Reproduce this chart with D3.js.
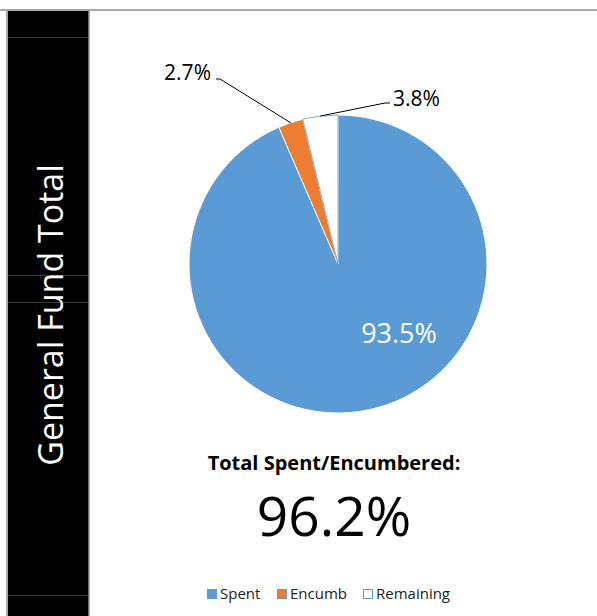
<!DOCTYPE html>
<html>
<head>
<meta charset="utf-8">
<script src="https://cdn.jsdelivr.net/npm/d3@7"></script>
<style>
  body { margin: 0; background: #fff; }
  text { font-family: "Open Sans", sans-serif; }
</style>
</head>
<body>
<div id="chart"></div>
<script>
var categories = ["Spent", "Encumb", "Remaining"];
var values = [93.5, 2.7, 3.8];
var fills = ["#5b9bd5", "#ed7d31", "#ffffff"];
var title = "General Fund Total";
var totalLabel = "Total Spent/Encumbered:";
var totalValue = "96.2%";

var width = 597, height = 616,
    cx = 338, cy = 264, radius = 149;

var svg = d3.select("#chart").append("svg")
  .attr("width", width)
  .attr("height", height);

// frame and black side bar
svg.append("rect")
  .attr("x", 7).attr("y", 10)
  .attr("width", 82).attr("height", height - 10)
  .attr("fill", "#000");

[37, 275, 302, 595].forEach(function (y) {
  svg.append("line")
    .attr("x1", 7).attr("x2", 88)
    .attr("y1", y + 0.5).attr("y2", y + 0.5)
    .style("stroke", "#3a3a3a").style("stroke-width", 1);
});

svg.append("line")
  .attr("x1", 0).attr("x2", width)
  .attr("y1", 10).attr("y2", 10)
  .style("stroke", "#aaa").style("stroke-width", 2);
svg.append("line")
  .attr("x1", 7).attr("x2", 7)
  .attr("y1", 9).attr("y2", height)
  .style("stroke", "#aaa").style("stroke-width", 2);
svg.append("line")
  .attr("x1", 89).attr("x2", 89)
  .attr("y1", 10).attr("y2", height)
  .style("stroke", "#999").style("stroke-width", 1.5);

svg.append("text")
  .attr("transform", "translate(63,315) rotate(-90)")
  .attr("text-anchor", "middle")
  .attr("fill", "#fff")
  .style("font-size", "34px")
  .text(title);

// pie
var pie = d3.pie().sort(null).value(function (d) { return d; });
var arcs = pie(values);
var arc = d3.arc().innerRadius(0).outerRadius(radius);

var g = svg.append("g")
  .attr("transform", "translate(" + cx + "," + cy + ")");

g.selectAll("path.slice")
  .data(arcs)
  .enter()
    .append("path")
    .attr("class", "slice")
    .attr("d", arc)
    .attr("fill", function (d, i) { return fills[i]; })
    .style("stroke", function (d, i) { return i == 2 ? "#5b9bd5" : "#fff"; })
    .style("stroke-width", function (d, i) { return i == 2 ? 0.8 : 1; });

// inside label for the big slice
g.append("text")
  .attr("transform", "translate(" + [61, 70] + ")")
  .attr("text-anchor", "middle")
  .attr("dy", "0.35em")
  .attr("fill", "#fff")
  .style("font-size", "27px")
  .text(d3.format(".1f")(values[0]) + "%");

// outside labels with leader lines
var edge = d3.arc().innerRadius(radius).outerRadius(radius);
var outside = [
  {i: 1, knee: [-118, -185], end: [-122, -185], tx: -127, ty: -191, anchor: "end"},
  {i: 2, knee: [47, -161], end: [52, -161], tx: 55, ty: -165, anchor: "start"}
];
outside.forEach(function (o) {
  var p = edge.centroid(arcs[o.i]);
  g.append("polyline")
    .attr("points", [p, o.knee, o.end].map(function (q) { return q.join(","); }).join(" "))
    .style("fill", "none")
    .style("stroke", "#000")
    .style("stroke-width", 1);
  g.append("text")
    .attr("x", o.tx).attr("y", o.ty)
    .attr("dy", "0.35em")
    .attr("text-anchor", o.anchor)
    .attr("fill", "#000")
    .style("font-size", "21px")
    .text(d3.format(".1f")(values[o.i]) + "%");
});

// total
svg.append("text")
  .attr("x", 334).attr("y", 470)
  .attr("text-anchor", "middle")
  .style("font-size", "20px")
  .style("font-weight", "bold")
  .text(totalLabel);
svg.append("text")
  .attr("x", 334).attr("y", 536)
  .attr("text-anchor", "middle")
  .style("font-size", "55px")
  .text(totalValue);

// legend
var legendX = [207, 277, 363];
var legend = svg.selectAll("g.legend")
  .data(categories)
  .enter()
    .append("g")
    .attr("class", "legend")
    .attr("transform", function (d, i) { return "translate(" + legendX[i] + ",589)"; });
legend.append("rect")
  .attr("x", 0.5).attr("y", 0.5)
  .attr("width", 9).attr("height", 9)
  .attr("fill", function (d, i) { return fills[i]; })
  .style("stroke", "#5b9bd5")
  .style("stroke-width", 1);
legend.append("text")
  .attr("x", 13).attr("y", 5)
  .attr("dy", "0.35em")
  .style("font-size", "15px")
  .attr("fill", "#222")
  .text(function (d) { return d; });
</script>
</body>
</html>
